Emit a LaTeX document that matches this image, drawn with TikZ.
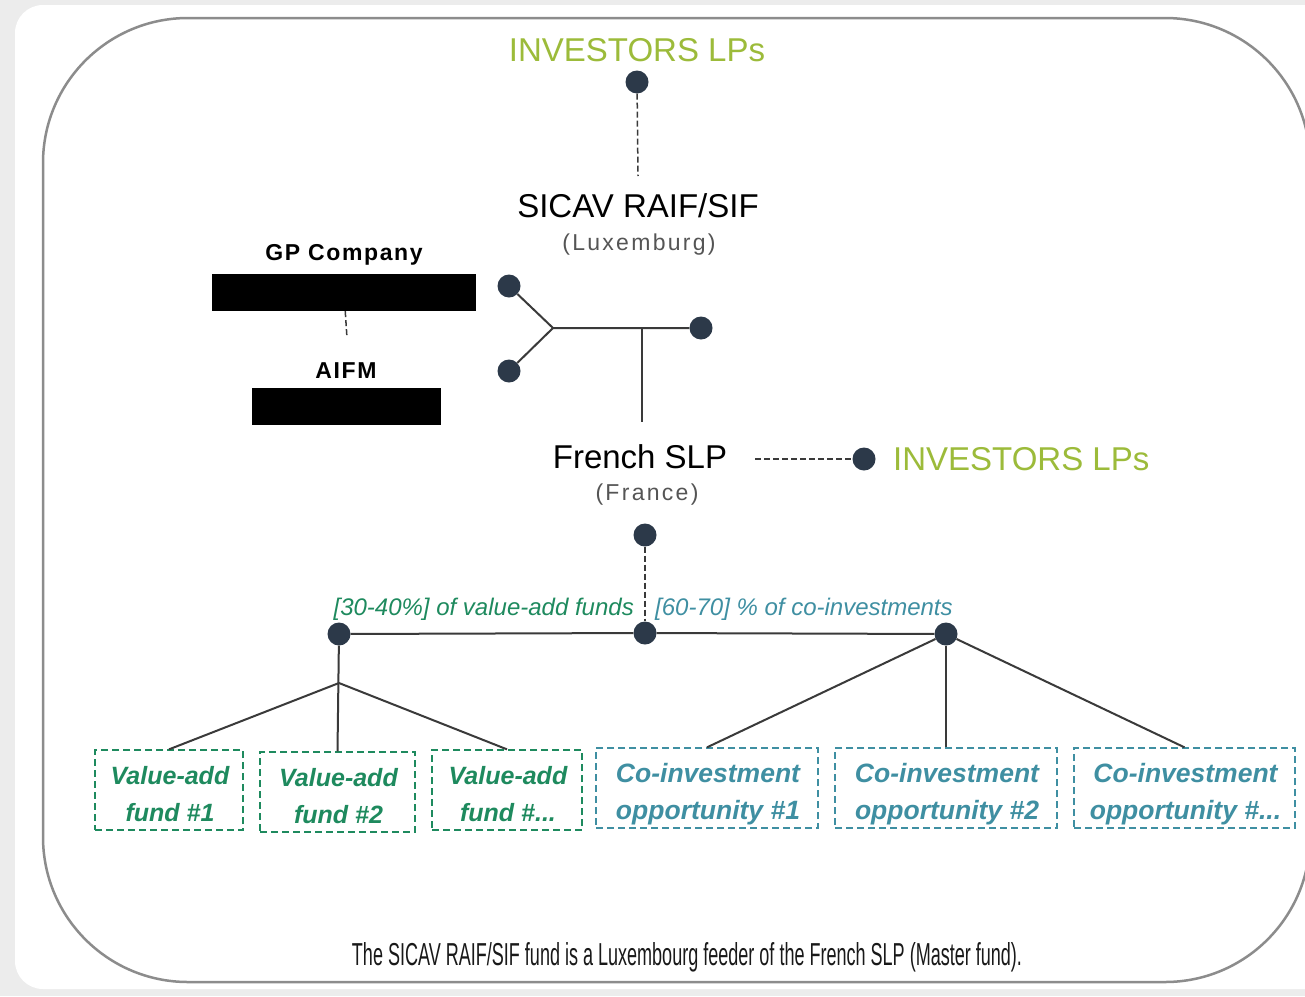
\documentclass[tikz,border=0pt]{standalone}
\usepackage{fontspec}
\usepackage{graphicx}
\setmainfont{Liberation Sans}
\definecolor{pagebg}{HTML}{ECECEC}
\definecolor{framec}{HTML}{8C8C8C}
\definecolor{dotc}{HTML}{2C3949}
\definecolor{linec}{HTML}{3A3A3A}
\definecolor{lpgreen}{HTML}{9CBB3A}
\definecolor{vagreen}{HTML}{1E8A5E}
\definecolor{coteal}{HTML}{3F8FA2}
\definecolor{subgrey}{HTML}{555555}
\tikzset{
  dot/.style={circle, fill=dotc, minimum size=23pt, inner sep=0pt},
  solidline/.style={draw=linec, line width=2pt},
  dashline/.style={draw=linec, line width=1.5pt, dash pattern=on 6pt off 3pt},
  bigtitle/.style={font=\fontsize{33}{38}\selectfont, text=black, inner sep=0pt},
  subtitle/.style={font=\fontsize{23}{27}\selectfont\addfontfeatures{LetterSpace=10}, text=subgrey, inner sep=0pt},
  lptext/.style={font=\fontsize{33}{38}\selectfont, text=lpgreen, inner sep=0pt},
  boldlabel/.style={font=\bfseries\fontsize{23}{27}\selectfont\addfontfeatures{LetterSpace=7}, inner sep=0pt},
  blackbar/.style={fill=black, draw=none},
  share/.style={font=\itshape\fontsize{24}{28}\selectfont, inner sep=0pt},
  fundbox/.style={line width=1.3pt, dash pattern=on 7pt off 4pt,
    minimum height=80pt, inner sep=0pt},
  vabox/.style={fundbox, draw=vagreen},
  cobox/.style={fundbox, draw=coteal},
  vatext/.style={text=vagreen, font=\bfseries\itshape\fontsize{25}{37}\selectfont,
    align=center, inner sep=0pt},
  cotext/.style={text=coteal, font=\bfseries\itshape\fontsize{26.5}{37}\selectfont,
    align=center, inner sep=0pt},
}
\begin{document}
\begin{tikzpicture}[x=1pt, y=-1pt]
\useasboundingbox (0,0) rectangle (1305,996);
% page background and white panel
\fill[pagebg] (0,0) rectangle (1305,996);
\fill[white, rounded corners=28pt] (15,5) rectangle (1340,989);
% rounded outer frame
\draw[framec, line width=2.5pt, rounded corners=145pt] (43,18) rectangle (1310,982);

% top investors and SICAV
\node[lptext] (lpTop) at (637,50) {INVESTORS LPs};
\node[dot] (dTop) at (637,82) {};
\coordinate (sicavIn) at (638,176);
\draw[dashline] (dTop) -- (sicavIn);
\node[bigtitle] (sicav) at (638,206) {SICAV RAIF/SIF};
\node[subtitle] (lux) at (639,245) {(Luxemburg)};

% GP company and AIFM
\node[boldlabel] (gp) at (344,255) {GP Company};
\node[blackbar, minimum width=264pt, minimum height=37pt, inner sep=0pt] (gpbar) at (344,292.5) {};
\coordinate (aifmIn) at (347,338);
\draw[dashline] (gpbar) -- (aifmIn);
\node[boldlabel] (aifm) at (346,371) {AIFM};
\node[blackbar, minimum width=189pt, minimum height=37pt, inner sep=0pt] (aifmbar) at (346.5,406.5) {};

% fork joining the two vehicles
\node[dot] (fA) at (509,286) {};
\node[dot] (fB) at (509,371) {};
\node[dot] (fC) at (701,328) {};
\coordinate (fj) at (553,328);
\coordinate (fjDown) at (642,328);
\coordinate (slpIn) at (642,422);
\draw[solidline] (fA) -- (fj) -- (fC);
\draw[solidline] (fB) -- (fj);
\draw[solidline] (fjDown) -- (slpIn);

% French SLP
\node[bigtitle] (slp) at (640,457) {French SLP};
\node[subtitle] (fr) at (647,495) {(France)};
\coordinate (slpOut) at (755,459);
\node[dot] (dLp) at (864,459) {};
\draw[dashline] (slpOut) -- (dLp);
\node[lptext, anchor=west] (lpRight) at (893,459) {INVESTORS LPs};

% allocation split
\node[dot] (dS) at (645,535) {};
\node[dot] (dM) at (645,633) {};
\draw[dashline] (dS) -- (dM);
\node[dot] (dL) at (339,634) {};
\node[dot] (dR) at (946,634) {};
\draw[solidline] (dL) -- (dM) -- (dR);
\node[share, text=vagreen, anchor=east] (shL) at (634,609) {[30-40\%] of value-add funds};
\node[share, text=coteal, anchor=west] (shR) at (655,609) {[60-70] \% of co-investments};

% value-add funds
\node[vabox, minimum width=148pt] (va1) at (169,790) {};
\node[vabox, minimum width=155pt] (va2) at (337.5,792) {};
\node[vabox, minimum width=150pt] (va3) at (507,790) {};
\node[vatext] (va1t) at (170,794) {Value-add\\fund \#1};
\node[vatext] (va2t) at (338.5,796) {Value-add\\fund \#2};
\node[vatext] (va3t) at (508,794) {Value-add\\fund \#...};
\coordinate (jL) at (339,683);
\draw[solidline] (dL) -- (va2.north);
\draw[solidline] (jL) -- (va1.north);
\draw[solidline] (jL) -- (va3.north);

% co-investments
\node[cobox, minimum width=222pt] (co1) at (707,788) {};
\node[cobox, minimum width=222pt] (co2) at (946,788) {};
\node[cobox, minimum width=221pt] (co3) at (1184.5,788) {};
\node[cotext] (co1t) at (708,794) {Co-investment\\opportunity \#1};
\node[cotext] (co2t) at (947,794) {Co-investment\\opportunity \#2};
\node[cotext] (co3t) at (1185.5,794) {Co-investment\\opportunity \#...};
\draw[solidline] (dR) -- (co1.north);
\draw[solidline] (dR) -- (co2.north);
\draw[solidline] (dR) -- (co3.north);

% caption
\node[anchor=base, inner sep=0pt, text=black!90] (cap) at (687,965)
  {\resizebox{670pt}{23pt}{The SICAV RAIF/SIF fund is a Luxembourg feeder of the French SLP (Master fund).}};
\end{tikzpicture}
\end{document}
